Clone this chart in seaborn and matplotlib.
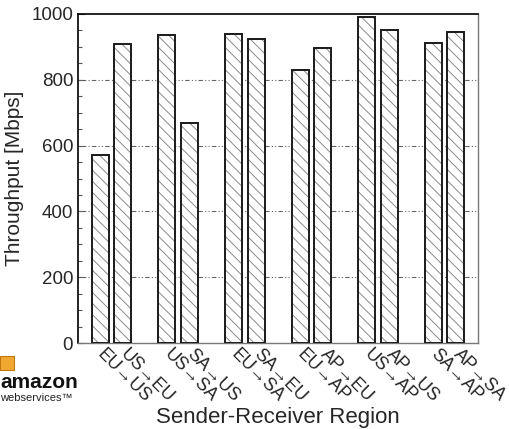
import matplotlib
matplotlib.use("Agg")
import matplotlib.pyplot as plt
import seaborn as sns
import pandas as pd
from matplotlib.patches import Rectangle
from matplotlib.ticker import MultipleLocator

# Data
groups = ["US-EU", "US-SA", "EU-SA", "EU-AP", "US-AP", "SA-AP"]
first_labels = ["EU→US", "US→SA", "EU→SA", "EU→AP", "US→AP", "SA→AP"]
second_labels = ["US→EU", "SA→US", "SA→EU", "AP→EU", "AP→US", "AP→SA"]
first_values = [571, 936, 939, 830, 991, 912]
second_values = [908, 669, 924, 897, 951, 945]

rows = []
for g, l1, l2, v1, v2 in zip(groups, first_labels, second_labels, first_values, second_values):
    rows.append({"group": g, "dir": "first", "label": l1, "value": v1})
    rows.append({"group": g, "dir": "second", "label": l2, "value": v2})
df = pd.DataFrame(rows)

sns.set_theme(style="white")
plt.rcParams["font.family"] = ["Liberation Sans", "DejaVu Sans"]
plt.rcParams["hatch.linewidth"] = 0.7

fig = plt.figure(figsize=(5.09, 4.29), dpi=100)
ax = fig.add_axes([78 / 509, 1 - 343 / 429, 400 / 509, 329 / 429])

sns.barplot(data=df, x="group", y="value", hue="dir", order=groups,
            hue_order=["first", "second"], width=0.68, gap=0.25,
            color="white", legend=False, ax=ax, zorder=3)

bars = [p for p in ax.patches if isinstance(p, Rectangle) and p.get_height() > 0]
bars.sort(key=lambda p: p.get_x())
centers = []
for p in bars:
    p.set_facecolor("white")
    p.set_edgecolor("#8a8a8a")
    p.set_hatch("\\\\\\")
    p.set_linewidth(0)
    ax.add_patch(Rectangle((p.get_x(), p.get_y()), p.get_width(), p.get_height(),
                           fill=False, edgecolor="#1a1a1a", linewidth=1.4, zorder=4))
    centers.append(p.get_x() + p.get_width() / 2)

tick_labels = []
for l1, l2 in zip(first_labels, second_labels):
    tick_labels += [l1, l2]

ax.set_xlim(-0.5, 5.5)
ax.set_ylim(0, 1000)
ax.set_xticks(centers)
ax.set_xticklabels(tick_labels, rotation=-45, rotation_mode="anchor",
                   ha="left", va="center", fontsize=13)
ax.tick_params(axis="x", length=0, pad=6)

ax.yaxis.set_major_locator(MultipleLocator(200))
ax.yaxis.set_minor_locator(MultipleLocator(50))
ax.tick_params(axis="y", which="major", direction="in", length=5, labelsize=13.5,
               left=True, width=0.8, color="#555")
ax.tick_params(axis="y", which="minor", direction="in", length=3, left=True,
               width=0.8, color="#555")

for yv in [200, 400, 600, 800]:
    ax.axhline(yv, color="#666666", linewidth=0.8,
               linestyle=(0, (4, 2, 1, 2, 1, 2)), zorder=1)

ax.set_xlabel("Sender-Receiver Region", fontsize=16, labelpad=1)
ax.set_ylabel("Throughput [Mbps]", fontsize=15, labelpad=5)

for side in ["left", "top"]:
    ax.spines[side].set_color("black")
    ax.spines[side].set_linewidth(1.2)
for side in ["right", "bottom"]:
    ax.spines[side].set_color("#777777")
    ax.spines[side].set_linewidth(1.0)

# Amazon web services logo (as text)
fig.patches.append(Rectangle((0.0, 1 - 370 / 429), 14 / 509, 14 / 429,
                             transform=fig.transFigure, facecolor="#f0a830",
                             edgecolor="#c07810", linewidth=0.8))
fig.text(0.0, 1 - 383 / 429, "amazon", fontsize=15, fontweight="bold",
         color="#111111", va="center", ha="left")
fig.text(0.0, 1 - 398 / 429, "webservices™", fontsize=8,
         color="#222222", va="center", ha="left")

fig.savefig("out.png", dpi=100)
